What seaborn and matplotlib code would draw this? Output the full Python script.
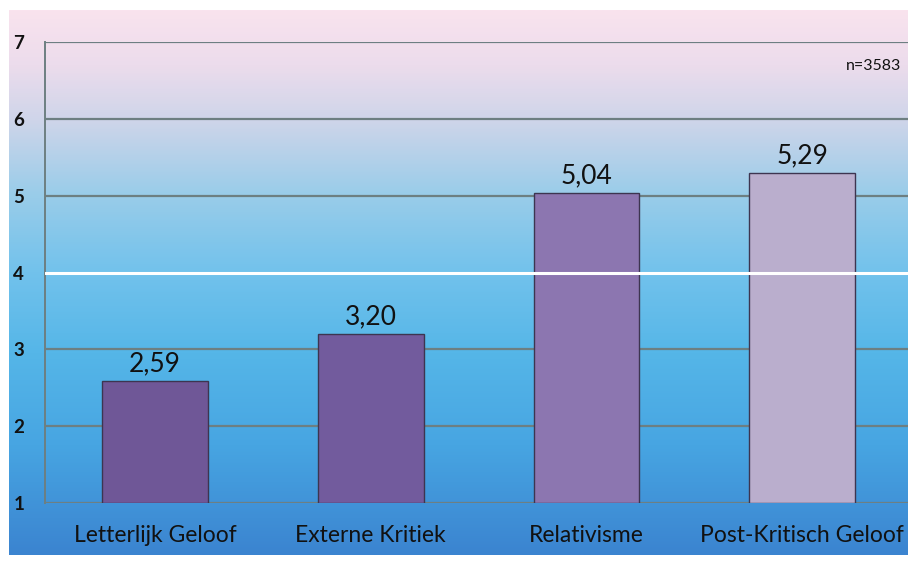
import numpy as np
import pandas as pd
import matplotlib
matplotlib.use("Agg")
import matplotlib.pyplot as plt
from matplotlib.colors import LinearSegmentedColormap
import seaborn as sns

categories = ["Letterlijk Geloof", "Externe Kritiek", "Relativisme", "Post-Kritisch Geloof"]
scores = [2.59, 3.20, 5.04, 5.29]
value_labels = ["2,59", "3,20", "5,04", "5,29"]
y_ticks = [1, 2, 3, 4, 5, 6, 7]
n_label = "n=3583"

bar_colors = ["#6c4ca2", "#6f50a8", "#8a6db9", "#b9a9d2"]

sns.set_style("white")
plt.rcParams["font.family"] = ["Lato", "DejaVu Sans"]

df = pd.DataFrame({"categorie": categories, "score": scores})

fig = plt.figure(figsize=(9.08, 5.63), dpi=100)

# achtergrond: verloop roze -> blauw
bg = fig.add_axes([9 / 908, 8 / 563, 1 - 9 / 908, 1 - 18 / 563], zorder=0)
grad = LinearSegmentedColormap.from_list(
    "bg", [(0.0, "#f9e3ee"), (0.1, "#ecdcec"), (0.2, "#cfd5ea"),
           (0.33, "#9ccde9"), (0.48, "#72c2ec"), (0.63, "#55b6e8"),
           (0.8, "#47a5e2"), (1.0, "#3b84d0")])
bg.imshow(np.linspace(0, 1, 256)[:, None], aspect="auto", cmap=grad,
          extent=[0, 1, 0, 1], origin="upper")
bg.axis("off")

ax = fig.add_axes([45 / 908, 60 / 563, 863 / 908, 461 / 563], zorder=1)
ax.patch.set_alpha(0)

sns.barplot(data=df, x="categorie", y="score", hue="categorie",
            palette=bar_colors, legend=False, width=0.49,
            edgecolor="#3d3550", linewidth=1.0, ax=ax, zorder=3)

for bar in ax.patches:
    bar.set_y(1)
    bar.set_height(bar.get_height() - 1)

ax.set_ylim(1, 7)
ax.set_xlim(-0.51, 3.49)
ax.set_yticks(y_ticks)
for y in y_ticks:
    if y == 4:
        ax.axhline(y, color="white", lw=2.2, zorder=4)
    else:
        ax.axhline(y, color="#6d7f82", lw=1.6, zorder=2)

for i, (v, lab) in enumerate(zip(scores, value_labels)):
    ax.text(i, v + 0.06, lab, ha="center", va="bottom", fontsize=19, color="#111111")

ax.text(0.992, 0.948, n_label, transform=ax.transAxes, ha="right", va="center",
        fontsize=11.5, color="#111111")

ax.set_xlabel("")
ax.set_ylabel("")
sns.despine(ax=ax, top=True, right=True, bottom=True, left=False)
ax.spines["left"].set_color("#6d7f82")
ax.spines["left"].set_linewidth(1.4)
ax.tick_params(axis="y", length=4, color="#6d7f82", labelsize=13.5, pad=11, labelcolor="#111111")
for t in ax.get_yticklabels():
    t.set_fontweight("bold")
ax.tick_params(axis="x", length=0, labelsize=16.5, pad=16, labelcolor="#111111")

fig.savefig("out.png", dpi=100)
